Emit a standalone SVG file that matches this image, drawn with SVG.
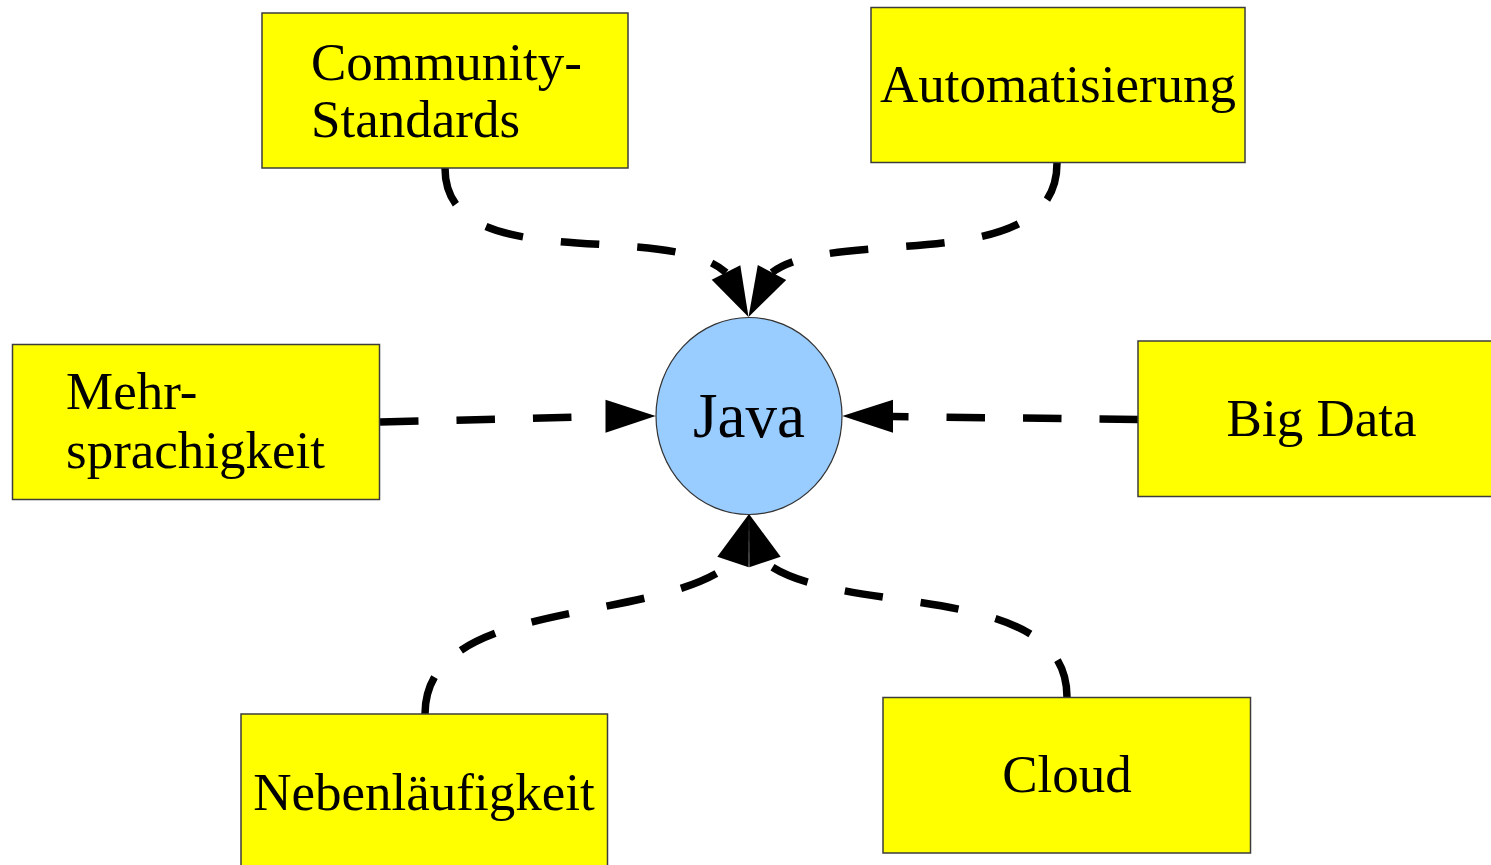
<svg xmlns="http://www.w3.org/2000/svg" width="1491" height="865" viewBox="0 0 1491 865">
<style>
.box{fill:#ffff00;stroke:#3c3c3c;stroke-width:1.5}
.oval{fill:#99ccff;stroke:#333;stroke-width:1.2}
.lbl{font-family:"Liberation Serif","Times New Roman",serif;font-size:53px;fill:#000}
.mid{text-anchor:middle}
.big{font-size:63px}
.con{fill:none;stroke:#000;stroke-width:7.5;stroke-dasharray:38.5 38;stroke-linecap:butt}
.ah{fill:#000;stroke:none}
</style>
<rect width="1491" height="865" fill="#ffffff"/>
<g id="connectors">
<path class="con" d="M445,168 C445,280 665,218 726,272.5"/>
<polygon class="ah" points="748.5,317 711.7,279.7 740.3,265.3"/>
<path class="con" d="M1057,163 C1057,279 835,225 772,272.5"/>
<polygon class="ah" points="748.5,317 786.2,280 757.8,265"/>
<path class="con" d="M380,422 L605.5,416.5"/>
<polygon class="ah" points="655.7,416 605.5,399.7 605.5,432.7"/>
<path class="con" d="M1138,419.5 L893,416.5"/>
<polygon class="ah" points="842.3,416 893,399.7 893,432.7"/>
<path class="con" d="M425,714 C425,595 659,626 733,562"/>
<polygon class="ah" points="749,514 717.3,556.8 748.7,567.2"/>
<path class="con" d="M1067,697 C1067,578 837,619 765,562"/>
<polygon class="ah" points="749,514 780.7,556.8 749.3,567.2"/>
</g>
<g id="node-community">
<rect class="box" x="262" y="13" width="366" height="155"/>
<text class="lbl" x="311" y="80">Community-</text>
<text class="lbl" x="311" y="137">Standards</text>
</g>
<g id="node-automatisierung">
<rect class="box" x="871" y="7.5" width="374" height="155"/>
<text class="lbl mid" x="1058" y="102">Automatisierung</text>
</g>
<g id="node-mehrsprachigkeit">
<rect class="box" x="12.5" y="344.5" width="367" height="155"/>
<text class="lbl" x="66" y="409">Mehr-</text>
<text class="lbl" x="66" y="468">sprachigkeit</text>
</g>
<g id="node-bigdata">
<rect class="box" x="1138" y="341" width="360" height="155.5"/>
<text class="lbl mid" x="1321.5" y="436">Big Data</text>
</g>
<g id="node-nebenlaeufigkeit">
<rect class="box" x="241" y="714" width="366.5" height="160"/>
<text class="lbl mid" x="424" y="810">Nebenläufigkeit</text>
</g>
<g id="node-cloud">
<rect class="box" x="883" y="697.5" width="367.5" height="155.5"/>
<text class="lbl mid" x="1067" y="792">Cloud</text>
</g>
<g id="node-java">
<ellipse class="oval" cx="749" cy="416" rx="93" ry="98.5"/>
<text class="lbl mid big" x="749" y="437">Java</text>
</g>
</svg>
